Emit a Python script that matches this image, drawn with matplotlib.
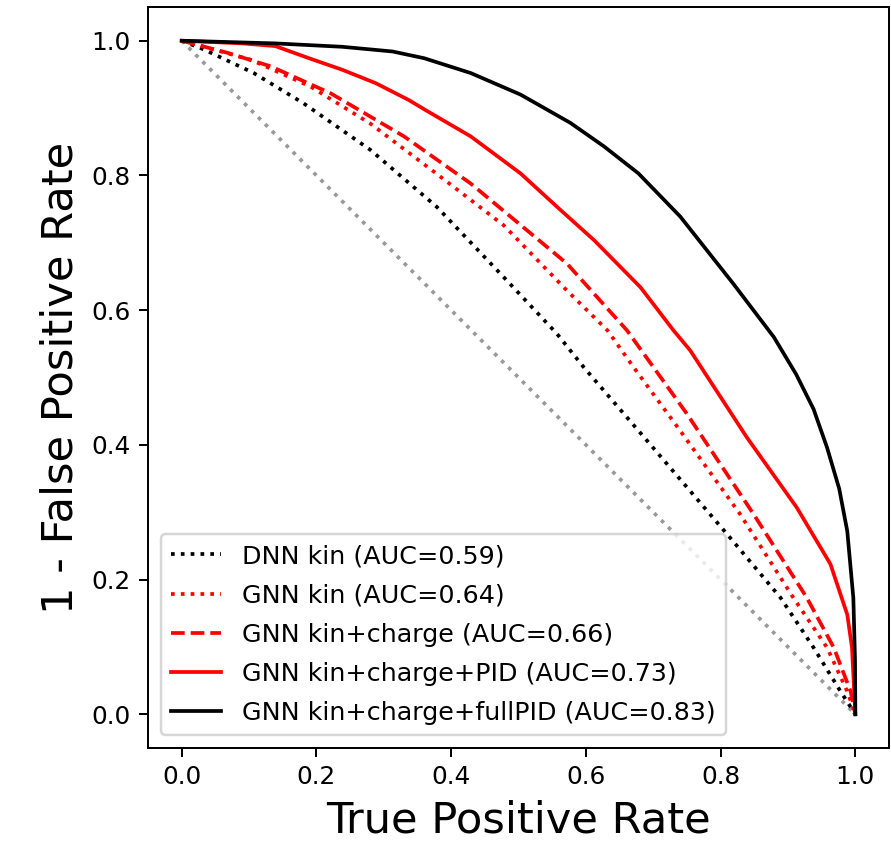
import matplotlib
matplotlib.use("Agg")
import matplotlib.pyplot as plt
import numpy as np

# ROC curves: x = true positive rate, y = 1 - false positive rate
dnn_kin_x = [0.0, 0.033, 0.107, 0.181, 0.28, 0.379, 0.478, 0.557, 0.597, 0.691, 0.81, 0.889, 0.938, 0.978, 1.0]
dnn_kin_y = [1.0, 0.987, 0.952, 0.907, 0.838, 0.753, 0.649, 0.565, 0.515, 0.406, 0.267, 0.173, 0.099, 0.034, 0.0]

gnn_kin_x = [0.0, 0.102, 0.191, 0.28, 0.379, 0.478, 0.572, 0.632, 0.671, 0.74, 0.829, 0.908, 0.958, 0.988, 1.0]
gnn_kin_y = [1.0, 0.972, 0.932, 0.877, 0.802, 0.726, 0.629, 0.57, 0.515, 0.421, 0.297, 0.173, 0.099, 0.034, 0.0]

gnn_charge_x = [0.0, 0.068, 0.132, 0.221, 0.33, 0.429, 0.518, 0.572, 0.661, 0.75, 0.849, 0.928, 0.968, 0.993, 1.0]
gnn_charge_y = [1.0, 0.982, 0.962, 0.922, 0.858, 0.788, 0.714, 0.669, 0.57, 0.446, 0.297, 0.173, 0.099, 0.034, 0.0]

gnn_pid_x = [0.0, 0.09, 0.139, 0.189, 0.238, 0.288, 0.337, 0.362, 0.429, 0.503, 0.562, 0.612,
             0.681, 0.73, 0.755, 0.839, 0.913, 0.963, 0.988, 0.995, 1.0]
gnn_pid_y = [1.0, 0.996, 0.992, 0.974, 0.957, 0.937, 0.912, 0.897, 0.858, 0.803, 0.749, 0.704,
             0.634, 0.57, 0.54, 0.411, 0.307, 0.223, 0.148, 0.099, 0.0]

gnn_full_x = [0.0, 0.139, 0.238, 0.313, 0.36, 0.429, 0.503, 0.577, 0.627, 0.678, 0.74, 0.819,
              0.879, 0.912, 0.938, 0.958, 0.976, 0.988, 0.997, 0.9995, 1.0]
gnn_full_y = [1.0, 0.996, 0.991, 0.984, 0.974, 0.952, 0.92, 0.878, 0.843, 0.803, 0.739, 0.639,
              0.56, 0.505, 0.453, 0.396, 0.335, 0.272, 0.173, 0.08, 0.0]

labels = ["DNN kin (AUC=0.59)",
          "GNN kin (AUC=0.64)",
          "GNN kin+charge (AUC=0.66)",
          "GNN kin+charge+PID (AUC=0.73)",
          "GNN kin+charge+fullPID (AUC=0.83)"]

dpi = 178
fig = plt.figure(figsize=(891 / dpi, 847 / dpi), dpi=dpi)
ax = fig.add_axes([0.1661, 0.1169, 0.8317, 0.8748])

# random guess line
ax.plot([0, 1], [1, 0], color='gray', linestyle=':', alpha=0.8)

ax.plot(dnn_kin_x, dnn_kin_y, 'k:', label=labels[0])
ax.plot(gnn_kin_x, gnn_kin_y, 'r:', label=labels[1])
ax.plot(gnn_charge_x, gnn_charge_y, 'r--', label=labels[2])
ax.plot(gnn_pid_x, gnn_pid_y, 'r-', label=labels[3])
ax.plot(gnn_full_x, gnn_full_y, 'k-', label=labels[4])

ax.set_xlim(-0.05, 1.05)
ax.set_ylim(-0.05, 1.05)
ax.set_xticks(np.arange(0, 1.01, 0.2))
ax.set_yticks(np.arange(0, 1.01, 0.2))
ax.set_xlabel("True Positive Rate", fontsize=17.5)
ax.set_ylabel("1 - False Positive Rate", fontsize=17.5)
ax.legend(loc='lower left', fontsize=10.25, labelspacing=0.6)

fig.savefig("out.png", dpi=dpi)
